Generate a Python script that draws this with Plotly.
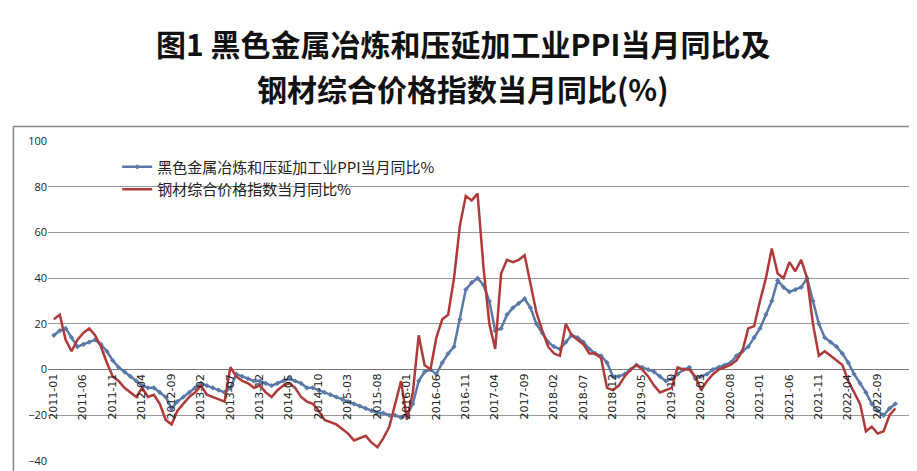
import plotly.graph_objects as go

months = [f"{y}-{m:02d}" for y in range(2011, 2023) for m in range(1, 13)]
tick_labels = months[::5]

ppi = [15,17,18,14,10,11,12,13,11,8,4,1,
       -1,-3,-5,-7,-8,-8,-10,-12,-17,-14,-12,-10,
       -8,-6,-7,-8,-9,-10,-8,-2,-3,-4,-5,-5,
       -6,-7,-6,-5,-4,-5,-6,-8,-8,-9,-10,-11,
       -12,-13,-14,-15,-16,-17,-18,-19,-19,-20,-20,-21,
       -20,-15,-5,-1,0,-2,3,7,10,22,35,38,
       40,37,30,17,18,24,27,29,31,27,20,16,
       12,10,9,12,15,14,12,9,7,6,3,-3,
       -3,-2,0,2,1,0,-1,-3,-5,-4,-2,0,
       1,-4,-3,-2,0,1,2,3,6,8,10,14,
       18,24,30,39,36,34,35,36,40,30,20,14,
       12,10,7,3,-2,-6,-10,-15,-18,-20,-17,-15]
steel = [22,24,13,8,13,16,18,15,10,3,-3,-5,
         -8,-10,-12,-8,-12,-11,-15,-22,-24,-18,-15,-12,
         -10,-7,-11,-12,-13,-14,1,-3,-5,-6,-8,-7,
         -10,-12,-9,-7,-6,-8,-12,-14,-15,-18,-22,-23,
         -24,-26,-28,-31,-30,-29,-32,-34,-30,-25,-15,-5,
         -22,-10,15,2,0,14,22,24,40,63,76,74,
         77,45,20,9,42,48,47,48,50,38,25,17,
         10,7,6,20,15,13,11,7,7,5,-8,-9,
         -7,-3,0,2,0,-3,-7,-10,-9,-8,1,0,
         0,-3,-9,-5,-2,0,1,2,4,8,18,19,
         30,40,53,42,40,47,43,48,40,20,6,8,
         6,4,2,-5,-10,-15,-27,-25,-28,-27,-20,-17]

fig = go.Figure()
fig.add_trace(go.Scatter(x=months, y=ppi, mode="lines+markers",
    name="黑色金属冶炼和压延加工业PPI当月同比%",
    line=dict(color="#5a79a8", width=2.5),
    marker=dict(symbol="diamond", size=4, color="#5a79a8")))
fig.add_trace(go.Scatter(x=months, y=steel, mode="lines",
    name="钢材综合价格指数当月同比%",
    line=dict(color="#b03a3a", width=2.5)))

for t in tick_labels:
    fig.add_annotation(x=t, y=-1, text=t, textangle=-90, showarrow=False,
                       yanchor="top", xanchor="center",
                       font=dict(size=11, color="#222", family="DejaVu Sans"))

for txt, ypx in [("<b>图1 黑色金属冶炼和压延加工业PPI当月同比及</b>", 35),
                 ("<b>钢材综合价格指数当月同比(%)</b>", 80)]:
    fig.add_annotation(xref="paper", yref="paper", x=0.48, y=1 + (133 - ypx) / 320,
                       text=txt, showarrow=False, xanchor="center", yanchor="middle",
                       font=dict(size=30, color="#111", family="Noto Sans CJK SC"))

fig.update_layout(
    width=917, height=471,
    margin=dict(l=40, r=12, t=133, b=18),
    paper_bgcolor="white", plot_bgcolor="white",
    legend=dict(orientation="h", x=0.08, y=0.97, xanchor="left", yanchor="top",
                font=dict(size=15, color="#222", family="Noto Sans CJK SC"),
                bgcolor="rgba(0,0,0,0)", entrywidth=480, entrywidthmode="pixels"),
    xaxis=dict(type="category", categoryorder="array", categoryarray=months,
               showticklabels=False, showgrid=False, zeroline=False,
               range=[-1, 146], showline=False),
    yaxis=dict(range=[-40, 100], dtick=20, gridcolor="#999", gridwidth=1,
               zeroline=True, zerolinecolor="#777", zerolinewidth=1,
               tickfont=dict(size=11, color="#222"), showline=False),
    shapes=[dict(type="rect", xref="paper", yref="paper", x0=-0.04, x1=1.005,
                 y0=-0.035, y1=1.045, line=dict(color="#888", width=1.5))],
)
fig.write_html("out.html")
